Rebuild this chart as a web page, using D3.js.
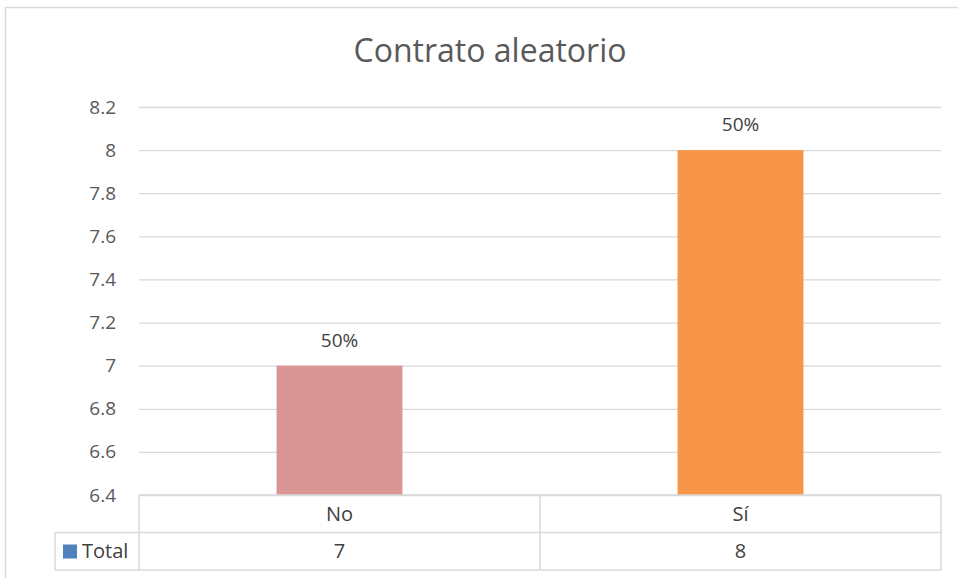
<!DOCTYPE html>
<html>
<head>
<meta charset="utf-8">
<script src="https://cdn.jsdelivr.net/npm/d3@7"></script>
<style>
  body { margin: 0; background: #fff; }
  svg { display: block; font-family: "Open Sans", "Noto Sans", sans-serif; }
</style>
</head>
<body>
<div id="chart"></div>
<script>
var categories = ['No', 'Sí'];
var values = [7, 8];
var dataLabels = ['50%', '50%'];
var seriesName = 'Total';
var yTicks = [6.4, 6.6, 6.8, 7, 7.2, 7.4, 7.6, 7.8, 8, 8.2];
var barColors = ['#d99694', '#f79646'];

var width = 958, height = 578;
var plotLeft = 139, plotRight = 941, plotTop = 107, plotBottom = 495;
var rowH = 37.5;

var svg = d3.select('#chart').append('svg')
    .attr('width', width)
    .attr('height', height);

// outer frame
svg.append('rect')
    .attr('x', 5.5).attr('y', 7.5)
    .attr('width', width + 10).attr('height', height + 10)
    .style('fill', 'none').style('stroke', '#d9d9d9').style('stroke-width', 1.5);

svg.append('text')
    .attr('x', 490).attr('y', 62)
    .attr('text-anchor', 'middle')
    .style('font-size', '32px')
    .style('fill', '#595959')
    .text('Contrato aleatorio');

var y = d3.scaleLinear().domain([6.4, 8.2]).range([plotBottom, plotTop]);
var x = d3.scaleBand().domain(categories).range([plotLeft, plotRight]).paddingInner(0.686).paddingOuter(0.343);
var col = d3.scaleBand().domain(categories).range([plotLeft, plotRight]);

// gridlines + tick labels
var yAxis = d3.axisLeft(y).tickValues(yTicks).tickSize(-(plotRight - plotLeft)).tickPadding(23)
    .tickFormat(function (d) { return String(+d.toFixed(1)); });
var ga = svg.append('g').attr('transform', 'translate(' + plotLeft + ',0)').call(yAxis);
ga.select('.domain').remove();
ga.selectAll('.tick line').style('stroke', '#d9d9d9').style('stroke-width', 1.3);
ga.selectAll('.tick text').style('font-size', '19px').style('fill', '#595959')
    .style('font-family', '"Open Sans", sans-serif');

// bars
svg.selectAll('rect.bar').data(values).enter().append('rect')
    .attr('class', 'bar')
    .attr('x', function (d, i) { return x(categories[i]); })
    .attr('y', function (d) { return y(d); })
    .attr('width', x.bandwidth())
    .attr('height', function (d) { return y(6.4) - y(d); })
    .style('fill', function (d, i) { return barColors[i]; });

svg.selectAll('text.lbl').data(values).enter().append('text')
    .attr('class', 'lbl')
    .attr('x', function (d, i) { return x(categories[i]) + x.bandwidth() / 2; })
    .attr('y', function (d) { return y(d) - 19; })
    .attr('text-anchor', 'middle')
    .style('font-size', '19px')
    .style('fill', '#404040')
    .text(function (d, i) { return dataLabels[i]; });

// data table
var tbl = svg.append('g');
var lineStyle = function (s) { return s.style('stroke', '#d9d9d9').style('stroke-width', 1.5); };
var r0 = plotBottom, r1 = plotBottom + rowH, r2 = plotBottom + 2 * rowH, legLeft = 55;
tbl.append('line').attr('x1', plotLeft).attr('x2', plotRight).attr('y1', r0).attr('y2', r0).call(lineStyle);
tbl.append('line').attr('x1', legLeft).attr('x2', plotRight).attr('y1', r1).attr('y2', r1).call(lineStyle);
tbl.append('line').attr('x1', legLeft).attr('x2', plotRight).attr('y1', r2).attr('y2', r2).call(lineStyle);
tbl.append('line').attr('x1', legLeft).attr('x2', legLeft).attr('y1', r1).attr('y2', r2).call(lineStyle);
categories.forEach(function (c) {
    tbl.append('line').attr('x1', col(c)).attr('x2', col(c)).attr('y1', r0).attr('y2', r2).call(lineStyle);
});
tbl.append('line').attr('x1', plotRight).attr('x2', plotRight).attr('y1', r0).attr('y2', r2).call(lineStyle);

categories.forEach(function (c, i) {
    var cx = col(c) + col.bandwidth() / 2;
    tbl.append('text').attr('x', cx).attr('y', r0 + rowH / 2 + 7)
        .attr('text-anchor', 'middle').style('font-size', '20px').style('fill', '#404040').text(c);
    tbl.append('text').attr('x', cx).attr('y', r1 + rowH / 2 + 7)
        .attr('text-anchor', 'middle').style('font-size', '20px').style('fill', '#404040').text(values[i]);
});
tbl.append('rect').attr('x', 63).attr('y', r1 + 12).attr('width', 14).attr('height', 14)
    .style('fill', '#4f81bd');
tbl.append('text').attr('x', 82).attr('y', r1 + rowH / 2 + 7)
    .style('font-size', '20px').style('fill', '#404040').text(seriesName);
</script>
</body>
</html>
